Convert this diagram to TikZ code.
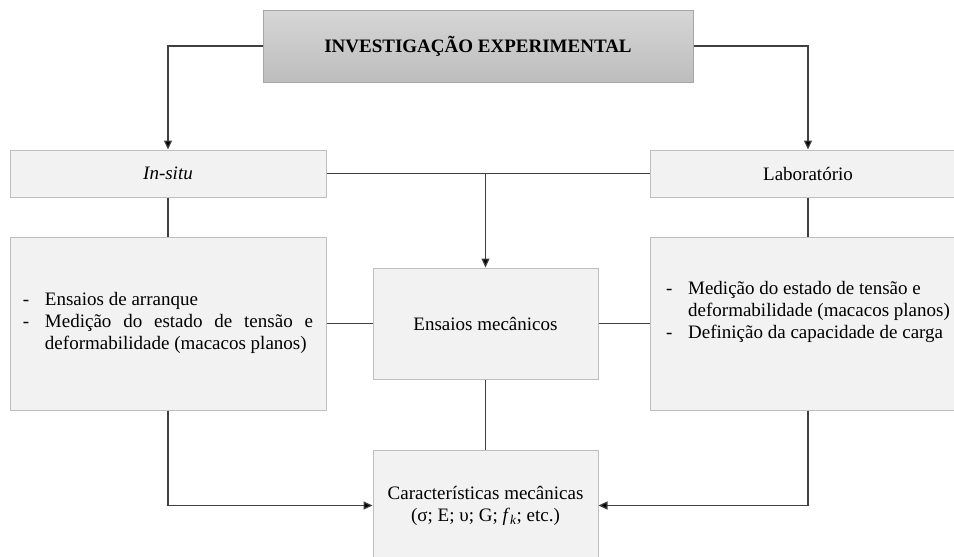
\documentclass[tikz,border=0pt]{standalone}
\usepackage{fontspec}
\setmainfont{Liberation Serif}
\usetikzlibrary{arrows.meta}
\definecolor{boxfill}{HTML}{F2F2F2}
\definecolor{boxborder}{HTML}{BFBFBF}
\definecolor{titletop}{HTML}{D6D6D6}
\definecolor{titlebot}{HTML}{BDBDBD}
\definecolor{titleborder}{HTML}{A6A6A6}
\definecolor{linecol}{HTML}{404040}
\begin{document}
\begin{tikzpicture}[x=1pt,y=-1pt,
  font=\fontsize{19}{22}\selectfont,
  box/.style={draw=boxborder, fill=boxfill, line width=1pt, inner sep=0pt},
  titlebox/.style={draw=titleborder, top color=titletop, bottom color=titlebot, line width=1pt, inner sep=0pt},
  conn/.style={draw=linecol, line width=1.2pt},
  arr/.style={conn, -{Triangle[length=9pt,width=8pt,fill=black]}}]
\useasboundingbox (0,0) rectangle (954,557);
\clip (0,0) rectangle (954,557);

\node[titlebox, minimum width=430pt, minimum height=72pt] (top) at (478,46)
  {\textbf{INVESTIGAÇÃO EXPERIMENTAL}};
\node[box, minimum width=316pt, minimum height=47pt] (insitu) at (168,173.5) {\textit{In-situ}};
\node[box, minimum width=316pt, minimum height=47pt] (lab) at (808,173.5) {Laboratório};
\node[box, minimum width=316pt, minimum height=173pt] (lbox) at (168,323.5) {%
  \begin{tabular}{@{}p{22pt}@{}l@{}}
  -&Ensaios de arranque\\
  -&\makebox[268pt][s]{Medição do estado de tensão e}\\
  &deformabilidade (macacos planos)
  \end{tabular}};
\node[box, minimum width=316pt, minimum height=173pt] (rbox) at (808,323.5) {%
  \begin{tabular}{@{}p{22pt}@{}l@{}}
  -&Medição do estado de tensão e\\
  &deformabilidade (macacos planos)\\
  -&Definição da capacidade de carga\\
  &
  \end{tabular}};
\node[box, minimum width=225pt, minimum height=111pt] (ens) at (485.5,323.5) {Ensaios mecânicos};
\node[box, minimum width=225pt, minimum height=111pt, align=center] (carac) at (485.5,505.5)
  {Características mecânicas\\(σ; E; υ; G; \textit{f}\textsubscript{\textit{k}}; etc.)};

\draw[arr] (top.west) -| (insitu.north);
\draw[arr] (top.east) -| (lab.north);
\draw[conn] (insitu.east) -- (lab.west);
\draw[arr] (ens.north |- insitu.east) -- (ens.north);
\draw[conn] (insitu.south) -- (lbox.north);
\draw[conn] (lab.south) -- (rbox.north);
\draw[conn] (lbox.east) -- (ens.west);
\draw[conn] (ens.east) -- (rbox.west);
\draw[conn] (ens.south) -- (carac.north);
\draw[arr] (lbox.south) |- (carac.west);
\draw[arr] (rbox.south) |- (carac.east);
\end{tikzpicture}
\end{document}
